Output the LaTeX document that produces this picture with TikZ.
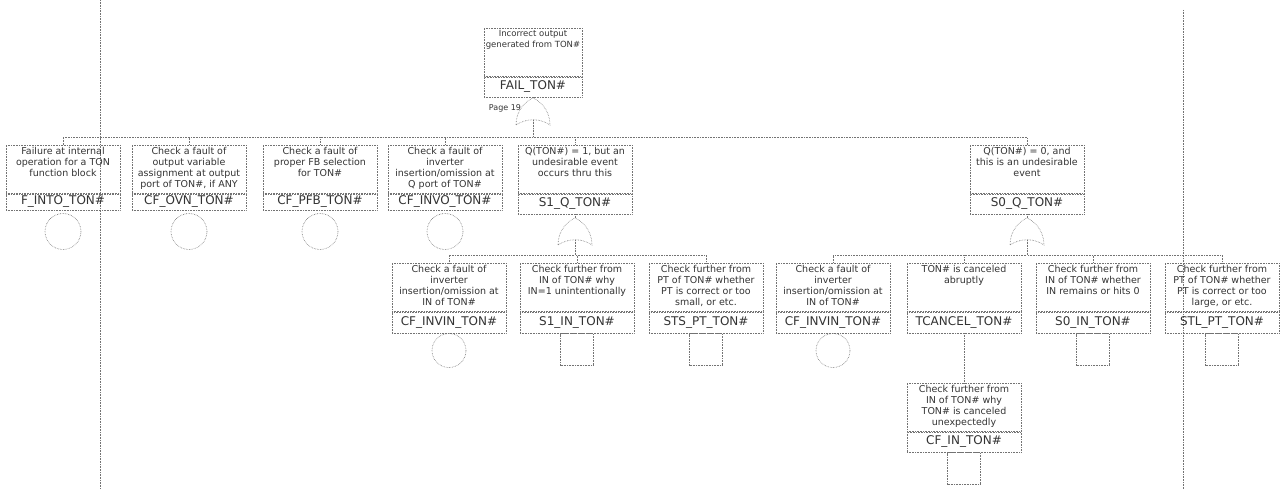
\documentclass[tikz,border=0pt]{standalone}
\usepackage{fontspec}
\setmainfont{DejaVu Sans}
\usetikzlibrary{positioning}
\newcommand{\evtext}[2][110pt]{\parbox[t][44pt][t]{#1}{\centering #2}}

\begin{document}
\begin{tikzpicture}[x=1pt,y=-1pt,
    conn/.style={draw=black!55,densely dotted,line width=0.6pt},
    evbox/.style={conn,minimum width=114pt,minimum height=48pt,inner sep=0pt,anchor=north,text=black!80,font=\fontsize{9.5}{11}\selectfont},
    idbox/.style={conn,minimum width=114pt,minimum height=21pt,inner sep=0pt,text=black!80,font=\fontsize{12}{13}\selectfont},
    basic/.style={conn,circle,minimum size=34pt,inner sep=0pt},
    undev/.style={conn,minimum width=33pt,minimum height=32pt,inner sep=0pt},
    orgate/.pic={
      \draw[conn] (-17,27) .. controls (-17,12) and (-7,3) .. (0,0) .. controls (7,3) and (17,12) .. (17,27) .. controls (7,20) and (-7,20) .. cycle;
      \coordinate (-in) at (0,0);
      \coordinate (-out) at (0,22);
    }]
  \useasboundingbox (0,0) rectangle (1285,489);

  % page borders
  \draw[conn] (100,0) -- (100,489);
  \draw[conn] (1183,10) -- (1183,489);

  % top event
  \node[evbox,minimum width=98pt,font=\fontsize{8.5}{11}\selectfont] (fail) at (533,28) {\evtext[98pt]{Incorrect output\\generated from TON\#}};
  \node[idbox,minimum width=98pt,minimum height=20pt,below=0pt of fail] (failId) {FAIL\_TON\#};
  \pic (g0) at (533,98) {orgate};
  \node[text=black!80,font=\fontsize{8}{9}\selectfont] (pg) at (505,108) {Page 19};

  % first level
  \node[evbox] (finto) at (63,145) {\evtext{Failure at internal\\operation for a TON\\function block}};
  \node[idbox,minimum height=16pt,below=0pt of finto] (fintoId) {F\_INTO\_TON\#};
  \node[basic,minimum size=36pt,below=3pt of fintoId] (fintoB) {};

  \node[evbox] (cfovn) at (189,145) {\evtext{Check a fault of\\output variable\\assignment at output\\port of TON\#, if ANY}};
  \node[idbox,minimum height=16pt,below=0pt of cfovn] (cfovnId) {CF\_OVN\_TON\#};
  \node[basic,minimum size=36pt,below=3pt of cfovnId] (cfovnB) {};

  \node[evbox] (cfpfb) at (320,145) {\evtext{Check a fault of\\proper FB selection\\for TON\#}};
  \node[idbox,minimum height=16pt,below=0pt of cfpfb] (cfpfbId) {CF\_PFB\_TON\#};
  \node[basic,minimum size=36pt,below=3pt of cfpfbId] (cfpfbB) {};

  \node[evbox] (cfinvo) at (445,145) {\evtext{Check a fault of\\inverter\\insertion/omission at\\Q port of TON\#}};
  \node[idbox,minimum height=16pt,below=0pt of cfinvo] (cfinvoId) {CF\_INVO\_TON\#};
  \node[basic,minimum size=36pt,below=3pt of cfinvoId] (cfinvoB) {};

  \node[evbox] (s1q) at (575,145) {\evtext{Q(TON\#) = 1, but an\\undesirable event\\occurs thru this}};
  \node[idbox,minimum height=20pt,below=0pt of s1q] (s1qId) {S1\_Q\_TON\#};
  \pic (g1) at (575,218) {orgate};

  \node[evbox] (s0q) at (1027,145) {\evtext{Q(TON\#) = 0, and\\this is an undesirable\\event}};
  \node[idbox,minimum height=20pt,below=0pt of s0q] (s0qId) {S0\_Q\_TON\#};
  \pic (g2) at (1027,218) {orgate};

  \coordinate (bus0) at (533,137);
  \draw[conn] (failId.south) -- (g0-in);
  \foreach \c in {finto,cfovn,cfpfb,cfinvo,s1q,s0q}
    \draw[conn] (g0-out) -- (bus0) -| (\c.north);

  % second level under S1_Q
  \node[evbox] (cfinvin) at (449,263) {\evtext{Check a fault of\\inverter\\insertion/omission at\\IN of TON\#}};
  \node[idbox,below=0pt of cfinvin] (cfinvinId) {CF\_INVIN\_TON\#};
  \node[basic,below=0pt of cfinvinId] (cfinvinB) {};

  \node[evbox] (s1in) at (577,263) {\evtext{Check further from\\IN of TON\# why\\IN=1 unintentionally}};
  \node[idbox,below=0pt of s1in] (s1inId) {S1\_IN\_TON\#};
  \node[undev,below=0pt of s1inId] (s1inU) {};

  \node[evbox] (stspt) at (706,263) {\evtext{Check further from\\PT of TON\# whether\\PT is correct or too\\small, or etc.}};
  \node[idbox,below=0pt of stspt] (stsptId) {STS\_PT\_TON\#};
  \node[undev,below=0pt of stsptId] (stsptU) {};

  \coordinate (bus1) at (575,255);
  \draw[conn] (s1qId.south) -- (g1-in);
  \foreach \c in {cfinvin,s1in,stspt}
    \draw[conn] (g1-out) -- (bus1) -| (\c.north);

  % second level under S0_Q
  \node[evbox] (cfinvinb) at (833,263) {\evtext{Check a fault of\\inverter\\insertion/omission at\\IN of TON\#}};
  \node[idbox,below=0pt of cfinvinb] (cfinvinbId) {CF\_INVIN\_TON\#};
  \node[basic,below=0pt of cfinvinbId] (cfinvinbB) {};

  \node[evbox] (tcancel) at (964,263) {\evtext{TON\# is canceled\\abruptly}};
  \node[idbox,below=0pt of tcancel] (tcancelId) {TCANCEL\_TON\#};

  \node[evbox] (s0in) at (1093,263) {\evtext{Check further from\\IN of TON\# whether\\IN remains or hits 0}};
  \node[idbox,below=0pt of s0in] (s0inId) {S0\_IN\_TON\#};
  \node[undev,below=0pt of s0inId] (s0inU) {};

  \node[evbox] (stlpt) at (1222,263) {\evtext{Check further from\\PT of TON\# whether\\PT is correct or too\\large, or etc.}};
  \node[idbox,below=0pt of stlpt] (stlptId) {STL\_PT\_TON\#};
  \node[undev,below=0pt of stlptId] (stlptU) {};

  \coordinate (bus2) at (1027,255);
  \draw[conn] (s0qId.south) -- (g2-in);
  \foreach \c in {cfinvinb,tcancel,s0in,stlpt}
    \draw[conn] (g2-out) -- (bus2) -| (\c.north);

  % third level
  \node[evbox] (cfin) at (964,383) {\evtext{Check further from\\IN of TON\# why\\TON\# is canceled\\unexpectedly}};
  \node[idbox,minimum height=20pt,below=0pt of cfin] (cfinId) {CF\_IN\_TON\#};
  \node[undev,below=0pt of cfinId] (cfinU) {};
  \draw[conn] (tcancelId.south) -- (cfin.north);
\end{tikzpicture}
\end{document}
